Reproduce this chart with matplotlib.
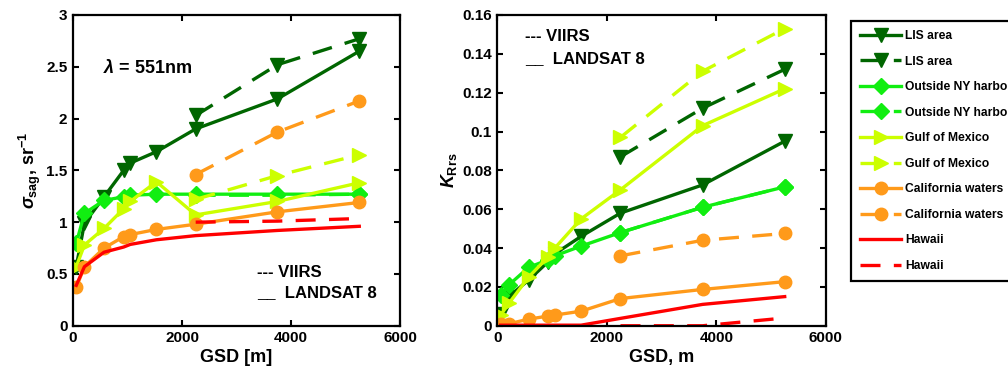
import matplotlib
matplotlib.use("Agg")
import matplotlib.pyplot as plt
from matplotlib.ticker import FuncFormatter


# GSD (m) для LANDSAT 8 и VIIRS
gsd_landsat = [60, 210, 570, 930, 1050, 1530, 2250, 3750, 5250]
gsd_viirs = [2250, 3750, 5250]

names = ["LIS area", "Outside NY harbor", "Gulf of Mexico", "California waters", "Hawaii"]
colors = ["#006600", "#11ee11", "#ccff00", "#ff9a1a", "#ff0000"]
markers = ["v", "D", ">", "o", None]
msizes = [9.5, 8, 9.5, 9, 0]

# sigma_sag, sr^-1
sag_landsat = [
    [0.57, 0.99, 1.245, 1.50, 1.57, 1.68, 1.90, 2.19, 2.65],
    [0.795, 1.085, 1.21, 1.245, 1.26, 1.27, 1.27, 1.27, 1.27],
    [0.57, 0.78, 0.94, 1.13, 1.20, 1.39, 1.07, 1.20, 1.38],
    [0.37, 0.57, 0.75, 0.86, 0.88, 0.93, 0.98, 1.10, 1.19],
    [0.39, 0.57, 0.71, 0.76, 0.785, 0.83, 0.87, 0.92, 0.96],
]
sag_viirs = [
    [2.03, 2.52, 2.77],
    [1.26, 1.26, 1.27],
    [1.22, 1.45, 1.65],
    [1.46, 1.87, 2.17],
    [1.00, 1.01, 1.035],
]

# K_Rrs
krrs_landsat = [
    [0.006, 0.015, 0.0235, 0.033, 0.037, 0.046, 0.058, 0.0725, 0.095],
    [0.016, 0.021, 0.030, 0.034, 0.036, 0.041, 0.048, 0.061, 0.0715],
    [0.0055, 0.0115, 0.025, 0.0355, 0.040, 0.055, 0.070, 0.103, 0.122],
    [0.001, 0.001, 0.0034, 0.005, 0.0055, 0.0075, 0.014, 0.0187, 0.0227],
    [0.0003, 0.0003, 0.0003, 0.0003, 0.0003, 0.0003, 0.0038, 0.011, 0.015],
]
krrs_viirs = [
    [0.087, 0.112, 0.132],
    [0.048, 0.061, 0.0715],
    [0.097, 0.131, 0.153],
    [0.036, 0.044, 0.0475],
    [0.0, 0.0, 0.004],
]


plt.rcParams["font.family"] = ["Liberation Sans", "DejaVu Sans"]
plt.rcParams["font.weight"] = "bold"
plt.rcParams["mathtext.fontset"] = "custom"
plt.rcParams["mathtext.rm"] = "Liberation Sans:bold"
plt.rcParams["mathtext.bf"] = "Liberation Sans:bold"
plt.rcParams["mathtext.it"] = "Liberation Sans:italic:bold"

DASH = (0, (6, 4))


def draw(ax, land, viirs, ylim, yticks, ylabel, xlabel):
    handles = []
    for i in range(len(names)):
        h1, = ax.plot(gsd_landsat, land[i], color=colors[i], marker=markers[i],
                      markersize=msizes[i], linewidth=2.4, label=names[i])
        h2, = ax.plot(gsd_viirs, viirs[i], color=colors[i], marker=markers[i],
                      markersize=msizes[i], linewidth=2.4, linestyle=DASH, label=names[i])
        handles += [h1, h2]

    ax.set_xlim(0, 6000)
    ax.set_ylim(*ylim)
    ax.set_xticks([0, 2000, 4000, 6000])
    ax.set_yticks(yticks)
    ax.yaxis.set_major_formatter(FuncFormatter(lambda v, p: "%g" % round(v, 4)))
    ax.tick_params(direction="in", top=True, right=True, length=4, width=1.5,
                   labelsize=11, pad=4)
    for s in ax.spines.values():
        s.set_linewidth(1.6)
    ax.set_xlabel(xlabel, fontsize=13, fontweight="bold", labelpad=3)
    ax.set_ylabel(ylabel, fontsize=13, fontweight="bold", labelpad=2)
    return handles


fig = plt.figure(figsize=(10.08, 3.74), dpi=100)
ax1 = fig.add_axes([0.0724, 0.129, 0.3246, 0.831])
ax2 = fig.add_axes([0.4934, 0.129, 0.3258, 0.831])

handles = draw(ax1, sag_landsat, sag_viirs, (0, 3), [0, 0.5, 1, 1.5, 2, 2.5, 3],
               r"$\mathit{\sigma}_{\mathrm{sag}}$, sr$^{\mathrm{-1}}$", "GSD [m]")
draw(ax2, krrs_landsat, krrs_viirs, (0, 0.16), [0, 0.02, 0.04, 0.06, 0.08, 0.1, 0.12, 0.14, 0.16],
     r"$\mathit{K}_{\mathrm{Rrs}}$", "GSD, m")

ax1.text(550, 2.49, r"$\mathit{\lambda}$ = 551nm", fontsize=13, fontweight="bold", va="center")
ax1.text(3380, 0.51, "--- VIIRS", fontsize=12, fontweight="bold", va="center")
ax1.text(3380, 0.32, "__  LANDSAT 8", fontsize=12, fontweight="bold", va="center")
ax2.text(500, 0.1488, "--- VIIRS", fontsize=12, fontweight="bold", va="center")
ax2.text(500, 0.1377, "__  LANDSAT 8", fontsize=12, fontweight="bold", va="center")

# легенда выходит за правый край, как в оригинале
leg = fig.legend(handles=handles, loc="upper left", bbox_to_anchor=(851 / 1008, 1 - 21 / 374),
                 borderaxespad=0, fontsize=8.7, handlelength=3.4, labelspacing=1.12,
                 fancybox=False, edgecolor="black", framealpha=1, borderpad=0.75,
                 handletextpad=0.3, markerscale=1.0)
leg.get_frame().set_linewidth(1.6)

fig.savefig("out.png", dpi=100)
